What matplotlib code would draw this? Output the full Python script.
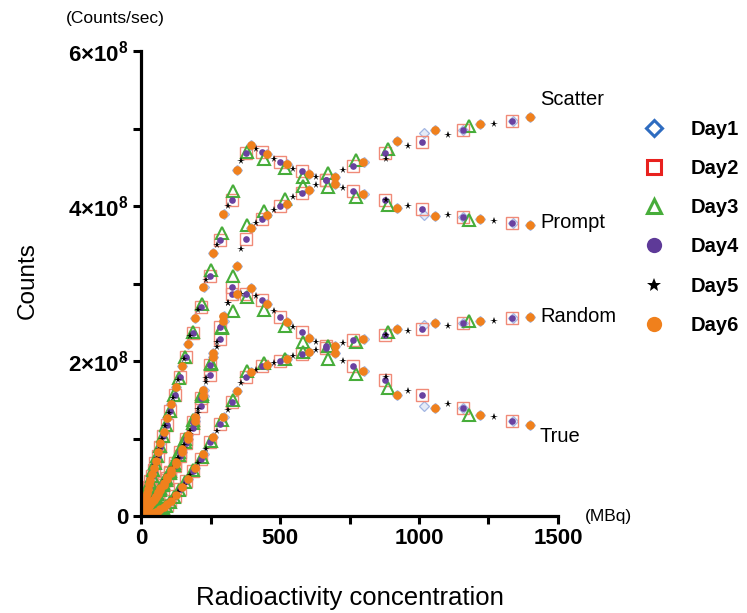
import matplotlib
matplotlib.use("Agg")
import numpy as np
import matplotlib.pyplot as plt
from matplotlib.lines import Line2D
from matplotlib.ticker import MultipleLocator, FuncFormatter

plt.rcParams["font.family"] = ["Liberation Sans", "DejaVu Sans"]
plt.rcParams["mathtext.fontset"] = "custom"
plt.rcParams["mathtext.rm"] = "Liberation Sans"
plt.rcParams["mathtext.bf"] = "Liberation Sans:bold"

# counts are stored in units of 1e8 counts/sec, concentration in MBq
UNIT = 1e8

# Day1 (open diamonds)
day1_x = [1400, 1338, 1220, 1160, 1058, 1019, 921, 801, 699, 605, 525, 455, 397, 345, 297, 259, 225,
          195, 169, 147, 126, 109, 95, 82, 71, 62, 54, 47, 41, 35, 30, 26, 22, 19, 16, 14, 12]
day1_prompt = [3.75, 3.78, 3.83, 3.86, 3.87, 3.88, 3.97, 4.15, 4.29, 4.41, 4.54, 4.67, 4.79, 4.47, 3.90, 3.40, 2.95,
               2.55, 2.22, 1.93, 1.67, 1.44, 1.26, 1.09, 0.94, 0.82, 0.71, 0.62, 0.54, 0.46, 0.41, 0.35, 0.30, 0.26, 0.22, 0.19, 0.16]
day1_scatter = [5.15, 5.10, 5.06, 4.98, 4.98, 4.94, 4.84, 4.57, 4.38, 4.21, 4.03, 3.88, 3.71, 3.22, 2.52, 2.05, 1.55,
                1.22, 0.99, 0.82, 0.67, 0.56, 0.48, 0.40, 0.34, 0.29, 0.25, 0.21, 0.18, 0.15, 0.13, 0.11, 0.095, 0.08, 0.07, 0.06, 0.05]
day1_true = [1.18, 1.23, 1.30, 1.39, 1.39, 1.42, 1.56, 1.87, 2.10, 2.30, 2.50, 2.74, 2.94, 2.87, 2.58, 2.10, 1.62,
             1.28, 1.04, 0.86, 0.70, 0.59, 0.50, 0.42, 0.36, 0.31, 0.26, 0.22, 0.19, 0.16, 0.14, 0.12, 0.10, 0.085, 0.072, 0.062, 0.053]
day1_random = [2.57, 2.55, 2.52, 2.49, 2.49, 2.47, 2.41, 2.28, 2.19, 2.11, 2.03, 1.95, 1.86, 1.61, 1.28, 1.02, 0.80,
               0.62, 0.48, 0.37, 0.27, 0.20, 0.15, 0.11, 0.085, 0.064, 0.048, 0.036, 0.027, 0.020, 0.015, 0.012, 0.008, 0.006, 0.0045, 0.0035, 0.0025]

# Day4 (filled purple) -- Day2 squares were taken at the same points
day4_x = [1335, 1159, 1010, 878, 764, 664, 578, 500, 436, 377, 328, 284, 248, 215, 187, 162, 141,
          122, 106, 92, 80, 69, 60, 52, 45, 39, 34, 29, 25, 22, 19, 16, 14, 12]
day4_prompt = [3.78, 3.86, 3.96, 4.08, 4.19, 4.33, 4.45, 4.57, 4.70, 4.68, 4.08, 3.56, 3.10, 2.70, 2.36, 2.05, 1.79,
               1.56, 1.36, 1.18, 1.03, 0.89, 0.78, 0.68, 0.59, 0.51, 0.45, 0.38, 0.33, 0.29, 0.25, 0.21, 0.185, 0.16]
day4_scatter = [5.10, 4.98, 4.83, 4.68, 4.51, 4.33, 4.17, 4.00, 3.83, 3.58, 2.95, 2.29, 1.82, 1.42, 1.14, 0.94, 0.78,
                0.65, 0.55, 0.47, 0.40, 0.34, 0.29, 0.245, 0.21, 0.18, 0.15, 0.13, 0.11, 0.095, 0.08, 0.07, 0.06, 0.05]
day4_true = [1.23, 1.39, 1.56, 1.75, 1.93, 2.20, 2.38, 2.57, 2.79, 2.87, 2.87, 2.44, 1.95, 1.52, 1.21, 0.99, 0.82,
             0.68, 0.57, 0.49, 0.42, 0.36, 0.30, 0.26, 0.22, 0.19, 0.16, 0.14, 0.12, 0.10, 0.085, 0.072, 0.062, 0.053]
day4_random = [2.55, 2.49, 2.41, 2.33, 2.27, 2.17, 2.09, 2.00, 1.93, 1.79, 1.47, 1.19, 0.95, 0.74, 0.58, 0.45, 0.35,
               0.26, 0.19, 0.14, 0.105, 0.08, 0.06, 0.046, 0.034, 0.026, 0.020, 0.015, 0.011, 0.008, 0.006, 0.0045, 0.0035, 0.0025]

day2_x = day4_x
day2_prompt = day4_prompt
day2_scatter = day4_scatter
day2_true = day4_true
day2_random = day4_random

# Day3 (open triangles)
day3_x = [1181, 890, 773, 674, 584, 518, 442, 382, 332, 290, 251, 218, 188, 160, 138, 120,
          104, 90, 78, 68, 59, 51, 44, 38, 33, 29, 25, 22, 19, 16, 14, 12]
day3_prompt = [3.82, 4.01, 4.12, 4.25, 4.38, 4.49, 4.61, 4.70, 4.20, 3.65, 3.17, 2.74, 2.38, 2.05, 1.78, 1.56,
               1.36, 1.18, 1.03, 0.90, 0.78, 0.68, 0.59, 0.51, 0.44, 0.39, 0.34, 0.30, 0.26, 0.22, 0.19, 0.16]
day3_scatter = [5.03, 4.74, 4.59, 4.42, 4.26, 4.09, 3.93, 3.75, 3.10, 2.44, 1.96, 1.55, 1.20, 0.96, 0.79, 0.66,
                0.56, 0.47, 0.40, 0.34, 0.29, 0.25, 0.21, 0.18, 0.15, 0.13, 0.11, 0.095, 0.08, 0.07, 0.06, 0.05]
day3_true = [1.30, 1.65, 1.83, 2.03, 2.25, 2.45, 2.66, 2.82, 2.64, 2.42, 1.98, 1.58, 1.24, 1.00, 0.83, 0.69,
             0.58, 0.49, 0.42, 0.36, 0.30, 0.26, 0.22, 0.19, 0.16, 0.14, 0.12, 0.10, 0.085, 0.072, 0.062, 0.053]
day3_random = [2.51, 2.38, 2.25, 2.20, 2.11, 2.03, 1.97, 1.87, 1.50, 1.24, 0.97, 0.76, 0.59, 0.44, 0.33, 0.25,
               0.18, 0.135, 0.10, 0.077, 0.058, 0.044, 0.033, 0.025, 0.019, 0.014, 0.011, 0.008, 0.006, 0.0045, 0.0035, 0.0025]

# Day5 (stars)
day5_x = [1271, 1105, 962, 880, 725, 630, 548, 478, 414, 359, 312, 272, 234, 204, 177, 154, 134,
          116, 101, 88, 76, 66, 57, 50, 43, 37, 32, 28, 24, 21, 18, 15, 13]
day5_prompt = [3.81, 3.89, 4.00, 4.08, 4.23, 4.37, 4.48, 4.61, 4.73, 4.58, 4.00, 3.50, 3.05, 2.66, 2.32, 2.02, 1.76,
               1.52, 1.33, 1.16, 1.00, 0.87, 0.75, 0.66, 0.57, 0.49, 0.42, 0.37, 0.32, 0.28, 0.24, 0.20, 0.17]
day5_scatter = [5.06, 4.91, 4.77, 4.61, 4.46, 4.27, 4.11, 3.95, 3.78, 3.44, 2.75, 2.18, 1.73, 1.33, 1.06, 0.88, 0.73,
                0.61, 0.52, 0.45, 0.38, 0.32, 0.28, 0.24, 0.20, 0.17, 0.145, 0.125, 0.105, 0.09, 0.078, 0.066, 0.056]
day5_true = [1.28, 1.44, 1.61, 1.79, 2.00, 2.25, 2.44, 2.64, 2.84, 2.87, 2.75, 2.25, 1.78, 1.38, 1.10, 0.91, 0.75,
             0.63, 0.54, 0.46, 0.39, 0.33, 0.28, 0.25, 0.21, 0.18, 0.15, 0.13, 0.11, 0.095, 0.08, 0.068, 0.058]
day5_random = [2.52, 2.45, 2.39, 2.34, 2.23, 2.14, 2.06, 1.98, 1.89, 1.72, 1.37, 1.10, 0.86, 0.68, 0.53, 0.40, 0.31,
               0.23, 0.17, 0.13, 0.095, 0.072, 0.054, 0.041, 0.031, 0.023, 0.017, 0.013, 0.010, 0.0075, 0.0055, 0.004, 0.003]

# Day6 (filled orange)
day6_x = [1399, 1219, 1058, 920, 800, 698, 604, 524, 454, 396, 344, 296, 258, 224, 194, 168, 146,
          125, 108, 94, 81, 70, 61, 53, 46, 40, 34, 30, 26, 22, 19, 16, 14, 12]
day6_prompt = [3.75, 3.83, 3.87, 3.97, 4.15, 4.29, 4.41, 4.54, 4.67, 4.79, 4.47, 3.90, 3.40, 2.95, 2.55, 2.22, 1.93,
               1.67, 1.44, 1.26, 1.09, 0.94, 0.82, 0.71, 0.62, 0.54, 0.46, 0.41, 0.35, 0.30, 0.26, 0.22, 0.19, 0.16]
day6_scatter = [5.15, 5.06, 4.98, 4.84, 4.57, 4.38, 4.21, 4.03, 3.88, 3.71, 3.22, 2.52, 2.05, 1.55, 1.22, 0.99, 0.82,
                0.67, 0.56, 0.48, 0.40, 0.34, 0.29, 0.25, 0.21, 0.18, 0.15, 0.13, 0.11, 0.095, 0.08, 0.07, 0.06, 0.05]
day6_true = [1.18, 1.30, 1.39, 1.56, 1.87, 2.10, 2.30, 2.50, 2.74, 2.94, 2.87, 2.58, 2.10, 1.62, 1.28, 1.04, 0.86,
             0.70, 0.59, 0.50, 0.42, 0.36, 0.31, 0.26, 0.22, 0.19, 0.16, 0.14, 0.12, 0.10, 0.085, 0.072, 0.062, 0.053]
day6_random = [2.57, 2.52, 2.49, 2.41, 2.28, 2.19, 2.11, 2.03, 1.95, 1.86, 1.61, 1.28, 1.02, 0.80, 0.62, 0.48, 0.37,
               0.27, 0.20, 0.15, 0.11, 0.085, 0.064, 0.048, 0.036, 0.027, 0.020, 0.015, 0.012, 0.008, 0.006, 0.0045, 0.0035, 0.0025]

curve_names = ["Scatter", "Prompt", "Random", "True"]
curve_label_y = [5.37, 3.79, 2.58, 1.02]

DAYS = [
    ("Day1", day1_x, [day1_prompt, day1_scatter, day1_true, day1_random],
     dict(marker="D", ms=5.5, mfc="#dfe6f6", mec="#8ea6dc", mew=0.9, alpha=0.8),
     dict(marker="D", ms=8, mfc="none", mec="#2e6cc0", mew=2.2)),
    ("Day2", day2_x, [day2_prompt, day2_scatter, day2_true, day2_random],
     dict(marker="s", ms=8, mfc="none", mec="#f08a78", mew=1.0),
     dict(marker="s", ms=10, mfc="none", mec="#e8211e", mew=2.2)),
    ("Day3", day3_x, [day3_prompt, day3_scatter, day3_true, day3_random],
     dict(marker="^", ms=9, mfc="none", mec="#47ad3a", mew=1.5),
     dict(marker="^", ms=10, mfc="none", mec="#47ad3a", mew=2.2)),
    ("Day4", day4_x, [day4_prompt, day4_scatter, day4_true, day4_random],
     dict(marker="o", ms=4.8, mfc="#6a41a0", mec="#6a41a0", mew=0),
     dict(marker="o", ms=11, mfc="#5e3a98", mec="#5e3a98", mew=0)),
    ("Day5", day5_x, [day5_prompt, day5_scatter, day5_true, day5_random],
     dict(marker="*", ms=5.5, mfc="black", mec="black", mew=0),
     dict(marker="*", ms=10, mfc="black", mec="black", mew=0)),
    ("Day6", day6_x, [day6_prompt, day6_scatter, day6_true, day6_random],
     dict(marker="o", ms=6.2, mfc="#f0801c", mec="#f0801c", mew=0),
     dict(marker="o", ms=11, mfc="#f0801c", mec="#f0801c", mew=0)),
]


def y_label(v, pos):
    if v == 0:
        return "0"
    return "%d×10$^{\\mathbf{8}}$" % round(v / 1e8)


def main():
    fig = plt.figure(figsize=(7.47, 6.13), dpi=100)
    ax = fig.add_axes([141 / 747, 97 / 613, 417 / 747, 465 / 613])

    handles = []
    for name, xs, series, style, leg_style in DAYS:
        for ys in series:
            ax.plot(xs, np.array(ys) * UNIT, linestyle="none", **style)
        handles.append(Line2D([], [], linestyle="none", label=name, **leg_style))

    ax.set_xlim(0, 1500)
    ax.set_ylim(0, 6e8)
    ax.xaxis.set_major_locator(MultipleLocator(500))
    ax.xaxis.set_minor_locator(MultipleLocator(250))
    ax.yaxis.set_major_locator(MultipleLocator(2e8))
    ax.yaxis.set_minor_locator(MultipleLocator(1e8))
    ax.yaxis.set_major_formatter(FuncFormatter(y_label))

    for side in ["top", "right"]:
        ax.spines[side].set_visible(False)
    for side in ["left", "bottom"]:
        ax.spines[side].set_linewidth(2.3)
    ax.tick_params(which="both", direction="out", length=6, width=2.2)
    ax.tick_params(which="major", labelsize=16, pad=3)
    for lab in ax.get_xticklabels() + ax.get_yticklabels():
        lab.set_fontweight("bold")

    for name, ly in zip(curve_names, curve_label_y):
        ax.text(1435, ly * UNIT, name, fontsize=14.5, va="center", ha="left", clip_on=False)

    fig.text(115 / 747, 1 - 19 / 613, "(Counts/sec)", fontsize=12.5, ha="center", va="center")
    fig.text(608 / 747, 1 - 517 / 613, "(MBq)", fontsize=12.5, ha="center", va="center")
    fig.text(28 / 747, 1 - 281 / 613, "Counts", fontsize=17.5, rotation=90, ha="center", va="center")
    fig.text(350 / 747, 1 - 598 / 613, "Radioactivity concentration", fontsize=18.5, ha="center", va="center")

    fig.legend(handles=handles, loc="upper left", bbox_to_anchor=(644 / 747, 1 - 120 / 613),
               frameon=False, borderpad=0, borderaxespad=0, handlelength=1.0, handletextpad=1.3,
               labelspacing=1.0, prop={"size": 14.5, "weight": "bold"})

    fig.savefig("out.png", dpi=100)


if __name__ == "__main__":
    main()
